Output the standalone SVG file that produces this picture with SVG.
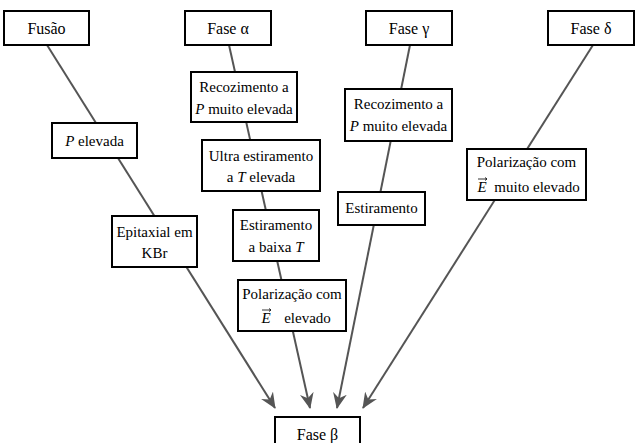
<svg xmlns="http://www.w3.org/2000/svg" width="637" height="443" viewBox="0 0 637 443">
<defs>
<marker id="ah" viewBox="0 0 16 14" refX="15" refY="7" markerWidth="16" markerHeight="14" markerUnits="userSpaceOnUse" orient="auto">
<path d="M0,0 L16,7 L0,14 L5,7 Z" fill="#555"/>
</marker>
</defs>
<rect width="637" height="443" fill="#fff"/>
<g id="connectors" stroke="#555" stroke-width="2" fill="none">
<line x1="47" y1="45" x2="275" y2="408" marker-end="url(#ah)"/>
<line x1="229" y1="45" x2="310" y2="408" marker-end="url(#ah)"/>
<line x1="410" y1="45" x2="337" y2="408" marker-end="url(#ah)"/>
<line x1="593" y1="45" x2="363" y2="408" marker-end="url(#ah)"/>
</g>
<g id="nodes" fill="#fff" stroke="#000" stroke-width="2">
<g id="fusao"><rect x="4" y="11" width="85" height="34"/><text style="font-family:'Liberation Serif',serif;font-size:16px;fill:#000;stroke:none;text-anchor:middle" x="46.5" y="33.5">Fusão</text></g>
<g id="fase-alpha"><rect x="185" y="11" width="86" height="34"/><text style="font-family:'Liberation Serif',serif;font-size:16px;fill:#000;stroke:none;text-anchor:middle" x="228" y="33.5">Fase α</text></g>
<g id="fase-gamma"><rect x="366" y="11" width="86" height="34"/><text style="font-family:'Liberation Serif',serif;font-size:16px;fill:#000;stroke:none;text-anchor:middle" x="409" y="33.5">Fase γ</text></g>
<g id="fase-delta"><rect x="548" y="11" width="86" height="34"/><text style="font-family:'Liberation Serif',serif;font-size:16px;fill:#000;stroke:none;text-anchor:middle" x="591" y="33.5">Fase δ</text></g>
<g id="fase-beta"><rect x="275" y="417" width="85" height="34"/><text style="font-family:'Liberation Serif',serif;font-size:16px;fill:#000;stroke:none;text-anchor:middle" x="317.5" y="439.5">Fase β</text></g>
<g id="p-elevada"><rect x="52" y="123" width="85" height="35"/><text style="font-family:'Liberation Serif',serif;font-size:15px;fill:#000;stroke:none;text-anchor:middle" x="94.5" y="145.5"><tspan style="font-style:italic">P</tspan> elevada</text></g>
<g id="epitaxial"><rect x="112" y="216" width="85" height="51"/><text style="font-family:'Liberation Serif',serif;font-size:15px;fill:#000;stroke:none;text-anchor:middle" x="154.5" y="236.5">Epitaxial em</text><text style="font-family:'Liberation Serif',serif;font-size:15px;fill:#000;stroke:none;text-anchor:middle" x="154.5" y="257.5">KBr</text></g>
<g id="recoz-alpha"><rect x="191" y="72" width="106" height="50"/><text style="font-family:'Liberation Serif',serif;font-size:15px;fill:#000;stroke:none;text-anchor:middle" x="244" y="91.5">Recozimento a</text><text style="font-family:'Liberation Serif',serif;font-size:15px;fill:#000;stroke:none;text-anchor:middle" x="244" y="113.5"><tspan style="font-style:italic">P</tspan> muito elevada</text></g>
<g id="ultra"><rect x="202" y="140" width="118" height="51"/><text style="font-family:'Liberation Serif',serif;font-size:15px;fill:#000;stroke:none;text-anchor:middle" x="261" y="160.5">Ultra estiramento</text><text style="font-family:'Liberation Serif',serif;font-size:15px;fill:#000;stroke:none;text-anchor:middle" x="261" y="181.5">a <tspan style="font-style:italic">T</tspan> elevada</text></g>
<g id="estir-alpha"><rect x="233" y="210" width="86" height="51"/><text style="font-family:'Liberation Serif',serif;font-size:15px;fill:#000;stroke:none;text-anchor:middle" x="276" y="229.5">Estiramento</text><text style="font-family:'Liberation Serif',serif;font-size:15px;fill:#000;stroke:none;text-anchor:middle" x="276" y="251.5">a baixa <tspan style="font-style:italic">T</tspan></text></g>
<g id="polar-alpha"><rect x="238" y="280" width="108" height="51"/><text style="font-family:'Liberation Serif',serif;font-size:15px;fill:#000;stroke:none;text-anchor:middle" x="292" y="298.5">Polarização com</text><text style="font-family:'Liberation Serif',serif;font-size:15px;font-style:italic;fill:#000;stroke:none;text-anchor:middle" x="266" y="322.5">E</text><path stroke-width="0.8" fill="none" d="M262,310 H271 M269,308.5 L271,310 L269,311.5"/><text style="font-family:'Liberation Serif',serif;font-size:15px;fill:#000;stroke:none;text-anchor:middle" x="307.5" y="322.5">elevado</text></g>
<g id="recoz-gamma"><rect x="345" y="89" width="107" height="52"/><text style="font-family:'Liberation Serif',serif;font-size:15px;fill:#000;stroke:none;text-anchor:middle" x="398.5" y="108.5">Recozimento a</text><text style="font-family:'Liberation Serif',serif;font-size:15px;fill:#000;stroke:none;text-anchor:middle" x="398.5" y="130.5"><tspan style="font-style:italic">P</tspan> muito elevada</text></g>
<g id="estir-gamma"><rect x="338" y="192" width="87" height="33"/><text style="font-family:'Liberation Serif',serif;font-size:15px;fill:#000;stroke:none;text-anchor:middle" x="381.5" y="212.5">Estiramento</text></g>
<g id="polar-delta"><rect x="467" y="149" width="119" height="51"/><text style="font-family:'Liberation Serif',serif;font-size:15px;fill:#000;stroke:none;text-anchor:middle" x="526.5" y="166.5">Polarização com</text><text style="font-family:'Liberation Serif',serif;font-size:15px;font-style:italic;fill:#000;stroke:none;text-anchor:middle" x="482" y="191.5">E</text><path stroke-width="0.8" fill="none" d="M478,179 H487 M485,177.5 L487,179 L485,180.5"/><text style="font-family:'Liberation Serif',serif;font-size:15px;fill:#000;stroke:none;text-anchor:middle" x="537" y="191.5">muito elevado</text></g>
</g>
</svg>
